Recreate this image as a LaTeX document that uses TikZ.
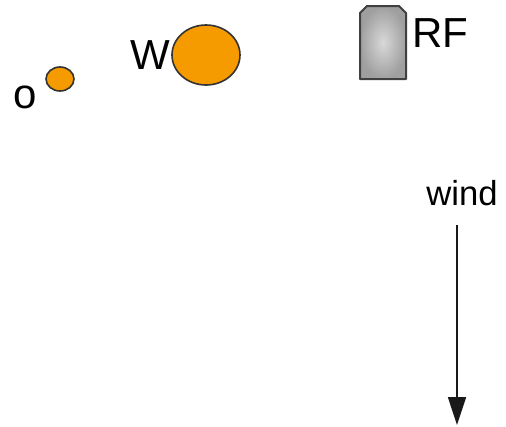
\documentclass[tikz,border=0pt]{standalone}
\usepackage{fontspec}
\setmainfont{Liberation Sans}
\usetikzlibrary{shapes.geometric,arrows.meta}
\definecolor{blob}{RGB}{245,155,0}
\begin{document}
\begin{tikzpicture}[x=0.75pt,y=-0.75pt,
  lbl/.style={inner sep=0pt,font=\fontsize{31.5pt}{34pt}\selectfont},
  blobst/.style={ellipse,draw=black!80,line width=1.2pt,fill=blob,inner sep=0pt},
  rfshape/.style={draw=black!75,line width=1.5pt,line join=round,inner color=gray!30,outer color=gray!75},
  windarrow/.style={-{Triangle[length=21pt,width=13.5pt]},line width=1.3pt,black!90}]
\useasboundingbox (0,0) rectangle (506,426);
\node[blobst,minimum width=21pt,minimum height=18pt] (small) at (60,79) {};
\node[lbl] (o) at (25,97) {o};
\node[lbl] (w) at (150,55) {W};
\node[blobst,minimum width=51pt,minimum height=45pt] (big) at (206,55) {};
\node[inner sep=0pt,minimum width=34.5pt,minimum height=54.75pt] (rf) at (383,42.5) {};
\path[rfshape] (360,79) -- (360,13) -- (367,6) -- (399,6) -- (406,13) -- (406,79) -- cycle;
\node[lbl] (rflbl) at (440,33) {RF};
\node[inner sep=0pt,font=\fontsize{26pt}{28pt}\selectfont] (wind) at (462,193) {wind};
\coordinate (wtop) at (457,225);
\coordinate (wend) at (457,425);
\draw[windarrow] (wtop) -- (wend);
\end{tikzpicture}
\end{document}
